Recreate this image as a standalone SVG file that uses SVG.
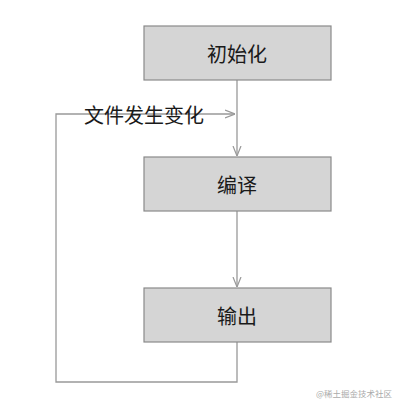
<svg xmlns="http://www.w3.org/2000/svg" width="403" height="410" viewBox="0 0 403 410">
<style>
.box{fill:#d5d5d5;stroke:#8a8a8a;stroke-width:1.2}
.lbl{font-family:"Noto Sans CJK SC","Noto Sans",sans-serif;font-size:20px;fill:#1a1a1a;text-anchor:middle;dominant-baseline:central}
.ln{fill:none;stroke:#999;stroke-width:1.3}
.wm{font-family:"Noto Sans CJK SC",sans-serif;font-size:8.5px;fill:#aaa;text-anchor:end}
</style>
<defs>
<marker id="ah" viewBox="0 0 10 10" refX="10" refY="5" markerWidth="10" markerHeight="10" markerUnits="userSpaceOnUse" orient="auto">
<path d="M0,1 L10,5 L0,9" fill="none" stroke="#999" stroke-width="1.2"/>
</marker>
</defs>
<g id="connectors">
<line class="ln" x1="237" y1="80" x2="237" y2="156" marker-end="url(#ah)"/>
<line class="ln" x1="237" y1="211" x2="237" y2="287" marker-end="url(#ah)"/>
<polyline class="ln" points="237,342 237,382 56,382 56,114 235,114" marker-end="url(#ah)"/>
</g>
<g id="label-change">
<text class="lbl" x="144" y="114">文件发生变化</text>
</g>
<g id="node-init">
<rect class="box" x="144" y="26" width="187" height="54"/>
<text class="lbl" x="237" y="53">初始化</text>
</g>
<g id="node-compile">
<rect class="box" x="144" y="157" width="187" height="54"/>
<text class="lbl" x="237" y="184">编译</text>
</g>
<g id="node-output">
<rect class="box" x="144" y="288" width="187" height="54"/>
<text class="lbl" x="237" y="315">输出</text>
</g>
<text class="wm" x="392" y="397">@稀土掘金技术社区</text>
</svg>
